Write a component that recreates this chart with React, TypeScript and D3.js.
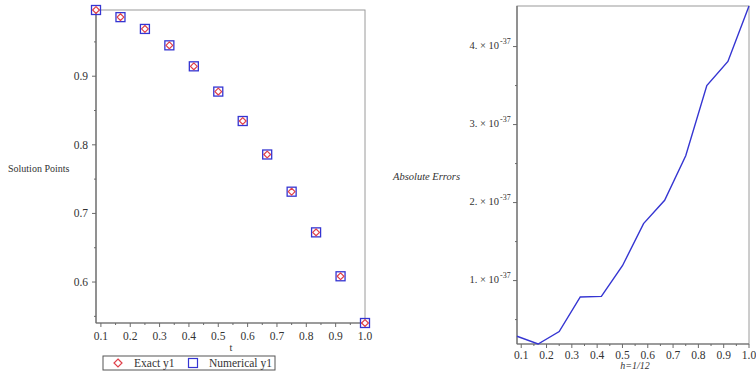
import React from 'react';
import * as d3 from 'd3';

// t = k/12, k = 1..12
const tValues = [0.0833, 0.1667, 0.25, 0.3333, 0.4167, 0.5, 0.5833, 0.6667, 0.75, 0.8333, 0.9167, 1.0];
const exactY1 = [0.9965, 0.9861, 0.9689, 0.945, 0.9144, 0.8776, 0.8347, 0.7859, 0.7317, 0.6724, 0.6084, 0.5403];
const numericalY1 = [0.9965, 0.9861, 0.9689, 0.945, 0.9144, 0.8776, 0.8347, 0.7859, 0.7317, 0.6724, 0.6084, 0.5403];
// absolute errors, in units of 1e-37
const absErrors = [0.286, 0.187, 0.346, 0.79, 0.797, 1.19, 1.73, 2.03, 2.6, 3.5, 3.81, 4.52];

const xTicks = [0.1, 0.2, 0.3, 0.4, 0.5, 0.6, 0.7, 0.8, 0.9, 1.0];
const xMinor = [0.15, 0.25, 0.35, 0.45, 0.55, 0.65, 0.75, 0.85, 0.95];
const leftYTicks = [0.6, 0.7, 0.8, 0.9];
const leftYMinor = [0.55, 0.65, 0.75, 0.85, 0.95];
const rightYTicks = [1, 2, 3, 4];
const rightYMinor = [0.5, 1.5, 2.5, 3.5];

const FONT = "'Liberation Serif', 'Times New Roman', Times, serif";
const AXIS = '#6a6a6a';
const FRAME = '#9a9a9a';
const BLUE = '#3535d2';
const RED = '#e0404a';
const TEXT = '#333';

export default function App() {
  const n = tValues.length;
  const tExtent = d3.extent(tValues) as [number, number];

  // left panel
  const x1 = d3.scaleLinear().domain(tExtent).range([96, 365]);
  const y1 = d3.scaleLinear().domain(d3.extent(exactY1) as [number, number]).range([323, 10]);

  // right panel
  const x2 = d3.scaleLinear().domain(tExtent).range([517, 749]);
  const y2 = d3.scaleLinear().domain(d3.extent(absErrors) as [number, number]).range([344, 6]);

  const line = d3.line<number>()
    .x((_, i) => x2(tValues[i]))
    .y(d => y2(d));

  const diamond = (cx: number, cy: number, r: number) =>
    `M${cx},${cy - r}L${cx + r},${cy}L${cx},${cy + r}L${cx - r},${cy}Z`;

  return (
    <svg width={756} height={371} style={{ position: 'absolute', left: 0, top: 0, background: '#fff', fontFamily: FONT }}>
      {/* ---------- left panel ---------- */}
      <rect x={96} y={10} width={269} height={313} fill="none" stroke={FRAME} strokeWidth={1} />
      <line x1={96} x2={96} y1={10} y2={323} stroke={AXIS} strokeWidth={1.2} />
      <line x1={96} x2={365} y1={323} y2={323} stroke={AXIS} strokeWidth={1.2} />
      {leftYTicks.map(v => (
        <g key={'ly' + v}>
          <line x1={92} x2={96} y1={y1(v)} y2={y1(v)} stroke={AXIS} />
          <text x={88} y={y1(v)} dy="0.35em" textAnchor="end" fontSize={11.5} fill={TEXT}>{v.toFixed(1)}</text>
        </g>
      ))}
      {leftYMinor.map(v => (
        <line key={'lym' + v} x1={94} x2={96} y1={y1(v)} y2={y1(v)} stroke={AXIS} />
      ))}
      {xTicks.map(v => (
        <g key={'lx' + v}>
          <line x1={x1(v)} x2={x1(v)} y1={323} y2={327} stroke={AXIS} />
          <text x={x1(v)} y={336} dy="0.35em" textAnchor="middle" fontSize={11.5} fill={TEXT}>{v.toFixed(1)}</text>
        </g>
      ))}
      {xMinor.map(v => (
        <line key={'lxm' + v} x1={x1(v)} x2={x1(v)} y1={323} y2={325} stroke={AXIS} />
      ))}
      <text x={231} y={347} dy="0.35em" textAnchor="middle" fontSize={10.5} fill={TEXT}>t</text>
      <text x={8} y={168} dy="0.35em" fontSize={10} fill={TEXT}>Solution Points</text>

      {d3.range(n).map(i => (
        <g key={'pt' + i}>
          <rect x={x1(tValues[i]) - 4.5} y={y1(numericalY1[i]) - 4.5} width={9} height={9}
            fill="none" stroke={BLUE} strokeWidth={1.3} />
          <path d={diamond(x1(tValues[i]), y1(exactY1[i]), 3.4)} fill="#fff" stroke={RED} strokeWidth={1.2}
            strokeLinejoin="round" />
        </g>
      ))}

      {/* legend */}
      <rect x={103} y={356} width={172} height={14} fill="#fff" stroke="#555" strokeWidth={1} />
      <path d={diamond(118, 363, 4)} fill="none" stroke={RED} strokeWidth={1.2} />
      <text x={134} y={363} dy="0.35em" fontSize={11.5} fill={TEXT}>Exact y1</text>
      <rect x={188.5} y={358.5} width={9} height={9} fill="none" stroke={BLUE} strokeWidth={1.2} />
      <text x={209} y={363} dy="0.35em" fontSize={11.5} fill={TEXT}>Numerical y1</text>

      {/* ---------- right panel ---------- */}
      <rect x={517} y={6} width={232} height={338} fill="none" stroke={FRAME} strokeWidth={1} />
      <line x1={517} x2={517} y1={6} y2={344} stroke={AXIS} strokeWidth={1.2} />
      <line x1={517} x2={749} y1={344} y2={344} stroke={AXIS} strokeWidth={1.2} />
      {rightYTicks.map(v => (
        <g key={'ry' + v}>
          <line x1={513} x2={517} y1={y2(v)} y2={y2(v)} stroke={AXIS} />
          <text x={499} y={y2(v)} dy="0.2em" textAnchor="end" fontSize={10.5} fill={TEXT}>{`${v}. × 10`}</text>
          <text x={500} y={y2(v) - 4} dy="0.2em" fontSize={8} fill={TEXT}>-37</text>
        </g>
      ))}
      {rightYMinor.map(v => (
        <line key={'rym' + v} x1={515} x2={517} y1={y2(v)} y2={y2(v)} stroke={AXIS} />
      ))}
      {xTicks.map(v => (
        <g key={'rx' + v}>
          <line x1={x2(v)} x2={x2(v)} y1={344} y2={348} stroke={AXIS} />
          <text x={x2(v)} y={355} dy="0.35em" textAnchor="middle" fontSize={11.5} fill={TEXT}>{v.toFixed(1)}</text>
        </g>
      ))}
      {xMinor.map(v => (
        <line key={'rxm' + v} x1={x2(v)} x2={x2(v)} y1={344} y2={346} stroke={AXIS} />
      ))}
      <path d={line(absErrors) || ''} fill="none" stroke={BLUE} strokeWidth={1.4} />
      <text x={635} y={365.5} dy="0.3em" textAnchor="middle" fontSize={10} fontStyle="italic" fill={TEXT}>h=1/12</text>
      <text x={393} y={176} dy="0.35em" fontSize={10.5} fontStyle="italic" fill={TEXT}>Absolute Errors</text>
    </svg>
  );
}
